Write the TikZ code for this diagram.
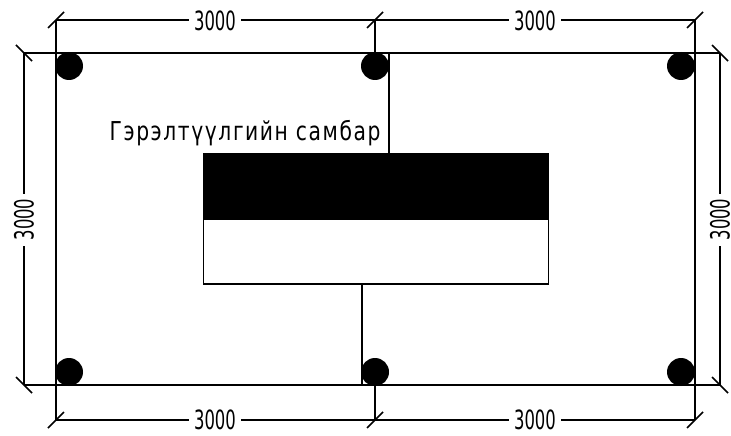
\documentclass[tikz,border=0pt]{standalone}
\usepackage{fontspec}
\setmainfont{DejaVu Sans}
\newfontfamily\dimfont[FakeStretch=0.62]{DejaVu Sans}
\newfontfamily\labfont[FakeStretch=0.78,LetterSpace=6]{DejaVu Sans}
\begin{document}
\begin{tikzpicture}[x=1pt,y=-1pt,
  wall/.style={line width=1.8pt,black},
  dimline/.style={line width=1.3pt,black},
  tick/.style={line width=1.5pt,black},
  column/.style={circle,fill=black,inner sep=0pt,minimum size=28pt},
  panelpart/.style={draw=black,line width=1.8pt,minimum width=345pt,minimum height=65pt,inner sep=0pt,outer sep=0pt},
  dimlabel/.style={fill=white,inner sep=0pt,minimum width=52pt,minimum height=20pt,font=\dimfont\fontsize{26.5}{26.5}\selectfont},
  dimlabelv/.style={dimlabel,rotate=90},
]
\useasboundingbox (0,0) rectangle (731,436);
\fill[white] (0,0) rectangle (731,436);
% anchors
\coordinate (tl) at (56,20);  \coordinate (tm) at (375,20);  \coordinate (tr) at (695,20);
\coordinate (bl) at (56,420); \coordinate (bm) at (375,420); \coordinate (br) at (695,420);
\coordinate (lt) at (24,53);  \coordinate (lb) at (24,385);
\coordinate (rt) at (720,53); \coordinate (rb) at (720,385);
\coordinate (wtm) at (375,53); \coordinate (wbm) at (375,385);
% walls and extension lines
\draw[wall] (lt) -- (rt);
\draw[wall] (lb) -- (rb);
\draw[wall] (tl) -- (bl);
\draw[wall] (tr) -- (br);
\draw[wall] (tm) -- (wtm);
\draw[wall] (wbm) -- (bm);
% columns
\foreach \n/\x/\y in {ca/69/66,cb/375/66,cc/681/66,cd/69/372,ce/375/372,cf/681/372}
  \node[column] (\n) at (\x,\y) {};
% panel
\node[panelpart,fill=black] (pt) at (376,186.5) {};
\node[panelpart,fill=white] (pb) at (376,251.5) {};
\coordinate (up) at (389,53); \coordinate (dn) at (362,385);
\draw[wall] (up) -- (389,154);
\draw[wall] (362,284) -- (dn);
\node[anchor=base west,inner sep=0pt,font=\labfont\fontsize{26}{26}\selectfont,text=black] (title) at (109.5,140) {Гэрэлтүүлгийн самбар};
% dimension lines
\draw[dimline] (tl) -- (tm) -- (tr);
\draw[dimline] (bl) -- (bm) -- (br);
\draw[dimline] (lt) -- (lb);
\draw[dimline] (rt) -- (rb);
% ticks
\foreach \c in {tl,tm,tr,bl,bm,br}
  \draw[tick] ([shift={(-8,8)}]\c) -- ([shift={(8,-8)}]\c);
\foreach \c in {lt,lb,rt,rb}
  \draw[tick] ([shift={(-8,-8)}]\c) -- ([shift={(8,8)}]\c);
% labels
\node[dimlabel] (d1) at (215,21) {3000};
\node[dimlabel] (d2) at (535,21) {3000};
\node[dimlabel] (d3) at (215,420) {3000};
\node[dimlabel] (d4) at (535,420) {3000};
\node[dimlabelv] (d5) at (24,219.5) {3000};
\node[dimlabelv] (d6) at (720,219.5) {3000};
\end{tikzpicture}
\end{document}
